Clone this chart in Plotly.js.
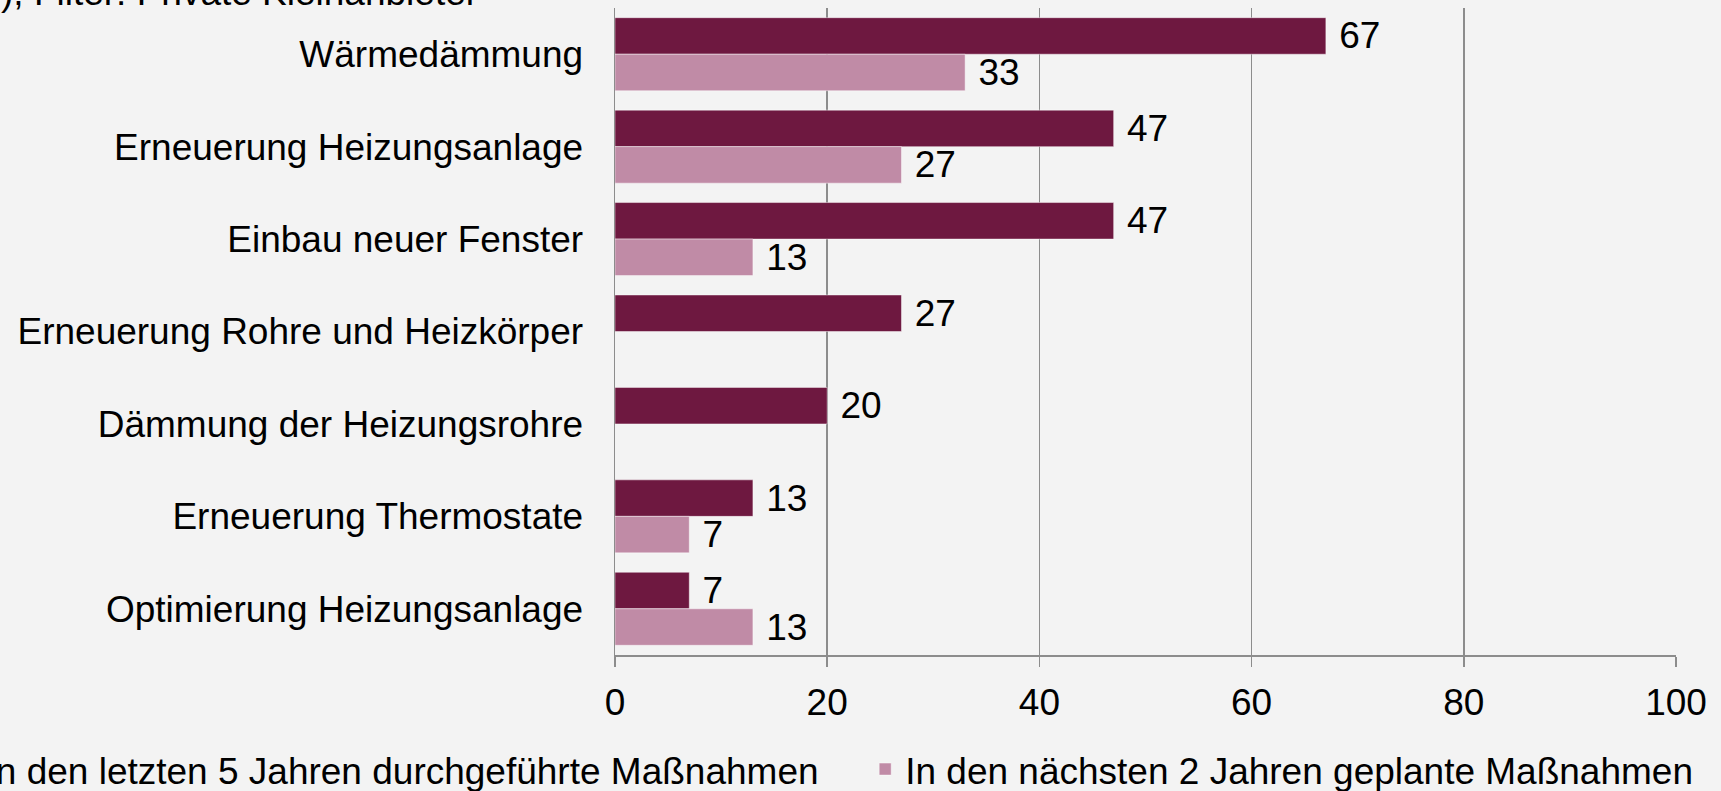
<!DOCTYPE html>
<html>
<head>
<meta charset="utf-8">
<script src="https://cdn.plot.ly/plotly-3.0.1.min.js"></script>
<style>html,body{margin:0;padding:0;background:#f3f3f3;overflow:hidden;}</style>
</head>
<body>
<div id="chart" style="width:1721px;height:791px;"></div>
<script>
const categories = [
  'Wärmedämmung',
  'Erneuerung Heizungsanlage',
  'Einbau neuer Fenster',
  'Erneuerung Rohre und Heizkörper',
  'Dämmung der Heizungsrohre',
  'Erneuerung Thermostate',
  'Optimierung Heizungsanlage'
];
const doneValues = [67, 47, 47, 27, 20, 13, 7];
const plannedValues = [33, 27, 13, null, null, 7, 13];
const xTickValues = [0, 20, 40, 60, 80, 100];
const xTickLabels = ['0', '20', '40', '60', '80', '100'];
const seriesNames = [
  'In den letzten 5 Jahren durchgeführte Maßnahmen',
  'In den nächsten 2 Jahren geplante Maßnahmen'
];
const noteText = '), Filter: Private Kleinanbieter';

const FONT = 'Liberation Sans, Arial, sans-serif';
const GRID = '#8c8c8c';

const traces = [
  {
    type: 'bar', orientation: 'h', name: seriesNames[0],
    y: categories, x: doneValues,
    marker: {color: '#6e1840', line: {width: 1, color: 'rgba(255,255,255,0.45)'}},
    text: doneValues.map(v => v == null ? '' : '\u00a0' + v),
    textposition: 'outside', textangle: 0, constraintext: 'none', cliponaxis: false,
    textfont: {family: FONT, size: 37, color: '#000'},
    hoverinfo: 'x+y', legend: 'legend'
  },
  {
    type: 'bar', orientation: 'h', name: seriesNames[1],
    y: categories, x: plannedValues,
    marker: {color: '#c08ba6', line: {width: 1, color: 'rgba(255,255,255,0.45)'}},
    text: plannedValues.map(v => v == null ? '' : '\u00a0' + v),
    textposition: 'outside', textangle: 0, constraintext: 'none', cliponaxis: false,
    textfont: {family: FONT, size: 37, color: '#000'},
    hoverinfo: 'x+y', legend: 'legend2'
  }
];

const legendBase = {
  orientation: 'h', xanchor: 'left', yanchor: 'middle', y: -0.177,
  font: {family: FONT, size: 37, color: '#000'},
  bgcolor: 'rgba(0,0,0,0)', borderwidth: 0
};

const layout = {
  width: 1721, height: 791,
  paper_bgcolor: '#f3f3f3', plot_bgcolor: '#f3f3f3',
  font: {family: FONT, size: 37, color: '#000'},
  margin: {l: 615, r: 45, t: 8, b: 136, pad: 0, autoexpand: false},
  barmode: 'group', bargap: 0.21, bargroupgap: 0,
  showlegend: true,
  legend: Object.assign({}, legendBase, {x: -0.631}),
  legend2: Object.assign({}, legendBase, {x: 0.2358}),
  xaxis: {
    range: [0, 100], tickvals: xTickValues, ticktext: xTickLabels,
    showgrid: true, gridcolor: GRID, gridwidth: 1.5,
    showline: true, linecolor: GRID, linewidth: 1.5,
    ticks: 'outside', ticklen: 10, tickcolor: GRID, tickwidth: 1.5,
    zeroline: false, ticklabelstandoff: 4,
    tickfont: {family: FONT, size: 37, color: '#000'}
  },
  yaxis: {
    autorange: 'reversed', type: 'category',
    showgrid: false, showline: true, linecolor: GRID, linewidth: 1.5,
    ticks: '', zeroline: false, ticklabelstandoff: 23,
    tickfont: {family: FONT, size: 37, color: '#000'}
  },
  annotations: [{
    text: noteText, xref: 'paper', yref: 'paper',
    x: -0.1269, xanchor: 'right', y: 0.9895, yanchor: 'bottom',
    showarrow: false, font: {family: FONT, size: 37, color: '#000'}
  }]
};

Plotly.newPlot('chart', traces, layout, {displayModeBar: false, staticPlot: true});
</script>
</body>
</html>
